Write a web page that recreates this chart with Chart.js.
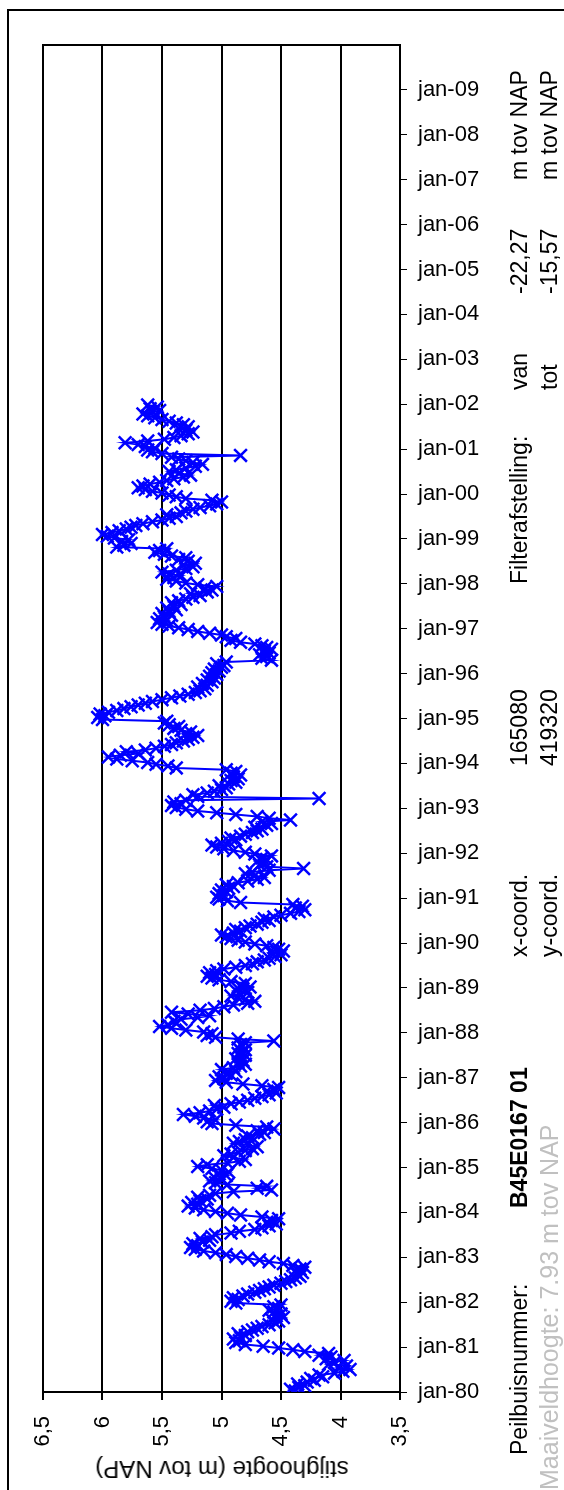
<!DOCTYPE html>
<html lang="nl">
<head>
<meta charset="UTF-8">
<title>Stijghoogte B45E0167 01</title>
<script src="https://cdn.jsdelivr.net/npm/chart.js"></script>
<style>
  body { margin: 0; background: #fff; }
  .page {
    position: relative;
    width: 564px;
    height: 1490px;
    overflow: hidden;
    background: #fff;
    font-family: 'Liberation Sans', Arial, sans-serif;
  }
  .frame {
    position: absolute;
    left: 7px;
    top: 9px;
    width: 620px;
    height: 1540px;
    border: 2px solid #000;
  }
  #chart { position: absolute; left: 0; top: 0; }
  .vtext {
    position: absolute;
    transform-origin: 0 0;
    transform: rotate(-90deg);
    font-size: 23px;
    line-height: 24px;
    white-space: nowrap;
    color: #000;
  }
  .axis-title {
    position: absolute;
    left: 222px;
    top: 1469px;
    transform: translate(-50%, -50%) rotate(180deg);
    font-size: 24px;
    white-space: nowrap;
  }
  .grey { color: #c0c0c0; font-size: 25px; }
  .bold { font-weight: bold; }
</style>
</head>
<body>
<div class="page">
  <div class="frame"></div>
  <canvas id="chart" width="564" height="1490"></canvas>
  <div class="axis-title">stijghoogte (m tov NAP)</div>

  <div class="vtext" style="left:507px; top:1455px">Peilbuisnummer:</div>
  <div class="vtext bold" style="left:507px; top:1208px">B45E0167 01</div>
  <div class="vtext" style="left:507px; top:957px">x-coord.</div>
  <div class="vtext" style="left:507px; top:766px">165080</div>
  <div class="vtext" style="left:507px; top:584px">Filterafstelling:</div>
  <div class="vtext" style="left:507px; top:390px">van</div>
  <div class="vtext" style="left:507px; top:294px">-22,27</div>
  <div class="vtext" style="left:507px; top:180px">m tov NAP</div>

  <div class="vtext grey" style="left:537px; top:1490px">Maaiveldhoogte: 7.93 m tov NAP</div>
  <div class="vtext" style="left:537px; top:957px">y-coord.</div>
  <div class="vtext" style="left:537px; top:766px">419320</div>
  <div class="vtext" style="left:537px; top:390px">tot</div>
  <div class="vtext" style="left:537px; top:294px">-15,57</div>
  <div class="vtext" style="left:537px; top:180px">m tov NAP</div>
</div>

<script>
// measurement dates (decimal years) and stijghoogte (m tov NAP)
const dates = [
  1980.02,1980.06,1980.10,1980.14,1980.18,1980.22,1980.26,1980.30,1980.34,1980.38,1980.42,1980.46,1980.50,1980.54,1980.58,1980.62,1980.66,1980.70,1980.74,1980.78,1980.82,1980.86,1980.90,1980.94,1980.98,
  1981.02,1981.06,1981.10,1981.14,1981.18,1981.22,1981.26,1981.30,1981.34,1981.38,1981.42,1981.46,1981.50,1981.54,1981.58,1981.62,1981.66,1981.70,1981.74,1981.78,1981.82,1981.86,1981.90,1981.94,1981.98,
  1982.02,1982.06,1982.10,1982.14,1982.18,1982.22,1982.26,1982.30,1982.34,1982.38,1982.42,1982.46,1982.50,1982.54,1982.58,1982.62,1982.66,1982.70,1982.74,1982.78,1982.82,1982.86,1982.90,1982.94,1982.98,
  1983.02,1983.06,1983.10,1983.14,1983.18,1983.22,1983.26,1983.30,1983.34,1983.38,1983.42,1983.46,1983.50,1983.54,1983.58,1983.62,1983.66,1983.70,1983.74,1983.78,1983.82,1983.86,1983.90,1983.94,1983.98,
  1984.02,1984.06,1984.10,1984.14,1984.18,1984.22,1984.26,1984.30,1984.34,1984.38,1984.42,1984.46,1984.50,1984.54,1984.58,1984.62,1984.66,1984.70,1984.74,1984.78,1984.82,1984.86,1984.90,1984.94,1984.98,
  1985.02,1985.06,1985.10,1985.14,1985.18,1985.22,1985.26,1985.30,1985.34,1985.38,1985.42,1985.46,1985.50,1985.54,1985.58,1985.62,1985.66,1985.70,1985.74,1985.78,1985.82,1985.86,1985.90,1985.94,1985.98,
  1986.02,1986.06,1986.10,1986.14,1986.18,1986.22,1986.26,1986.30,1986.34,1986.38,1986.42,1986.46,1986.50,1986.54,1986.58,1986.62,1986.66,1986.70,1986.74,1986.78,1986.82,1986.86,1986.90,1986.94,1986.98,
  1987.02,1987.06,1987.10,1987.14,1987.18,1987.22,1987.26,1987.30,1987.34,1987.38,1987.42,1987.46,1987.50,1987.54,1987.58,1987.62,1987.66,1987.70,1987.74,1987.78,1987.82,1987.86,1987.90,1987.94,1987.98,
  1988.02,1988.06,1988.10,1988.14,1988.18,1988.22,1988.26,1988.30,1988.34,1988.38,1988.42,1988.46,1988.50,1988.54,1988.58,1988.62,1988.66,1988.70,1988.74,1988.78,1988.82,1988.86,1988.90,1988.94,1988.98,
  1989.02,1989.06,1989.10,1989.14,1989.18,1989.22,1989.26,1989.30,1989.34,1989.38,1989.42,1989.46,1989.50,1989.54,1989.58,1989.62,1989.66,1989.70,1989.74,1989.78,1989.82,1989.86,1989.90,1989.94,1989.98,
  1990.02,1990.06,1990.10,1990.14,1990.18,1990.22,1990.26,1990.30,1990.34,1990.38,1990.42,1990.46,1990.50,1990.54,1990.58,1990.62,1990.66,1990.70,1990.74,1990.78,1990.82,1990.86,1990.90,1990.94,1990.98,
  1991.02,1991.06,1991.10,1991.14,1991.18,1991.22,1991.26,1991.30,1991.34,1991.38,1991.42,1991.46,1991.50,1991.54,1991.58,1991.62,1991.66,1991.70,1991.74,1991.78,1991.82,1991.86,1991.90,1991.94,1991.98,
  1992.02,1992.06,1992.10,1992.14,1992.18,1992.22,1992.26,1992.30,1992.34,1992.38,1992.42,1992.46,1992.50,1992.54,1992.58,1992.62,1992.66,1992.70,1992.74,1992.78,1992.82,1992.86,1992.90,1992.94,1992.98,
  1993.02,1993.06,1993.10,1993.14,1993.18,1993.22,1993.26,1993.30,1993.34,1993.38,1993.42,1993.46,1993.50,1993.54,1993.58,1993.62,1993.66,1993.70,1993.74,1993.78,1993.82,1993.86,1993.90,1993.94,1993.98,
  1994.02,1994.06,1994.10,1994.14,1994.18,1994.22,1994.26,1994.30,1994.34,1994.38,1994.42,1994.46,1994.50,1994.54,1994.58,1994.62,1994.66,1994.70,1994.74,1994.78,1994.82,1994.86,1994.90,1994.94,1994.98,
  1995.02,1995.06,1995.10,1995.14,1995.18,1995.22,1995.26,1995.30,1995.34,1995.38,1995.42,1995.46,1995.50,1995.54,1995.58,1995.62,1995.66,1995.70,1995.74,1995.78,1995.82,1995.86,1995.90,1995.94,1995.98,
  1996.02,1996.06,1996.10,1996.14,1996.18,1996.22,1996.26,1996.30,1996.34,1996.38,1996.42,1996.46,1996.50,1996.54,1996.58,1996.62,1996.66,1996.70,1996.74,1996.78,1996.82,1996.86,1996.90,1996.94,1996.98,
  1997.02,1997.06,1997.10,1997.14,1997.18,1997.22,1997.26,1997.30,1997.34,1997.38,1997.42,1997.46,1997.50,1997.54,1997.58,1997.62,1997.66,1997.70,1997.74,1997.78,1997.82,1997.86,1997.90,1997.94,1997.98,
  1998.02,1998.06,1998.10,1998.14,1998.18,1998.22,1998.26,1998.30,1998.34,1998.38,1998.42,1998.46,1998.50,1998.54,1998.58,1998.62,1998.66,1998.70,1998.74,1998.78,1998.82,1998.86,1998.90,1998.94,1998.98,
  1999.02,1999.06,1999.10,1999.14,1999.18,1999.22,1999.26,1999.30,1999.34,1999.38,1999.42,1999.46,1999.50,1999.54,1999.58,1999.62,1999.66,1999.70,1999.74,1999.78,1999.82,1999.86,1999.90,1999.94,1999.98,
  2000.02,2000.06,2000.10,2000.14,2000.18,2000.22,2000.26,2000.30,2000.34,2000.38,2000.42,2000.46,2000.50,2000.54,2000.58,2000.62,2000.66,2000.70,2000.74,2000.78,2000.82,2000.86,2000.90,2000.94,2000.98,
  2001.02,2001.06,2001.10,2001.14,2001.18,2001.22,2001.26,2001.30,2001.34,2001.38,2001.42,2001.46,2001.50,2001.54,2001.58,2001.62,2001.66,2001.70,2001.74,2001.78,2001.82,2001.86,2001.90,2001.94,2001.98
];

const levels = [
  4.38,4.42,4.35,4.30,4.36,4.28,4.22,4.25,4.15,4.18,4.05,3.98,3.92,4.02,3.95,4.10,4.05,3.97,4.12,4.08,4.18,4.10,4.30,4.40,4.52,
  4.65,4.80,4.88,4.85,4.90,4.84,4.80,4.86,4.78,4.74,4.70,4.66,4.60,4.55,4.52,4.58,4.48,4.54,4.50,4.56,4.60,4.52,4.56,4.50,4.88,
  4.92,4.86,4.90,4.82,4.78,4.72,4.68,4.64,4.60,4.56,4.50,4.46,4.42,4.38,4.34,4.36,4.32,4.38,4.34,4.30,4.40,4.48,4.60,4.68,4.78,
  4.88,4.96,5.05,5.15,5.22,5.26,5.20,5.24,5.16,5.10,5.18,5.08,5.05,4.92,4.85,4.72,4.66,4.60,4.54,4.62,4.58,4.52,4.66,4.84,4.95,
  5.05,5.15,5.22,5.28,5.20,5.25,5.18,5.12,5.20,5.10,5.05,4.90,4.58,4.70,4.62,4.95,5.05,5.10,5.00,5.06,4.96,5.02,4.94,5.00,5.08,
  5.20,5.12,4.95,4.85,4.80,4.90,4.98,4.92,4.86,4.80,4.74,4.70,4.78,4.90,4.85,4.80,4.74,4.78,4.68,4.64,4.70,4.56,4.62,4.88,5.08,
  5.12,5.05,5.15,5.22,5.32,5.18,5.10,5.04,4.98,5.06,4.92,4.85,4.78,4.72,4.66,4.60,4.54,4.62,4.56,4.52,4.66,4.82,4.96,5.05,4.98,
  5.02,4.92,4.96,4.88,5.00,4.90,4.84,4.80,4.86,4.82,4.88,4.84,4.80,4.86,4.83,4.80,4.86,4.82,4.84,4.80,4.56,4.86,5.05,5.12,5.08,
  5.15,5.30,5.42,5.52,5.45,5.38,5.40,5.34,5.20,5.10,5.28,5.42,5.18,5.06,4.98,4.90,4.78,4.72,4.80,4.86,4.92,4.84,4.78,4.88,4.82,
  4.76,4.84,4.80,4.92,5.02,5.08,5.12,5.05,5.10,5.04,4.98,4.88,4.80,4.74,4.70,4.64,4.60,4.55,4.50,4.58,4.48,4.52,4.56,4.62,4.72,
  4.80,4.86,4.92,4.96,5.00,4.90,4.84,4.88,4.80,4.76,4.70,4.66,4.60,4.64,4.56,4.50,4.42,4.35,4.30,4.38,4.32,4.40,4.84,4.95,5.02,
  5.04,4.98,5.02,4.96,5.00,4.94,4.90,4.96,4.86,4.78,4.70,4.64,4.72,4.80,4.74,4.60,4.31,4.62,4.68,4.64,4.70,4.62,4.66,4.58,4.72,
  4.80,4.90,4.98,5.04,5.08,5.00,4.94,4.88,4.92,4.84,4.80,4.74,4.70,4.66,4.72,4.62,4.58,4.66,4.42,4.60,4.70,4.88,5.04,5.20,5.30,
  5.38,5.42,5.34,5.40,5.30,4.18,5.20,5.24,5.12,5.06,5.00,4.96,5.02,4.94,4.88,4.92,4.86,4.90,4.84,4.92,4.88,4.96,5.38,5.45,5.55,
  5.62,5.75,5.88,5.95,5.85,5.70,5.80,5.64,5.55,5.48,5.42,5.38,5.32,5.28,5.24,5.20,5.30,5.26,5.34,5.40,5.36,5.44,5.48,5.46,6.00,
  6.04,5.98,6.02,5.95,5.88,5.82,5.76,5.70,5.64,5.58,5.50,5.42,5.35,5.28,5.22,5.18,5.14,5.20,5.12,5.16,5.08,5.12,5.06,5.10,5.04,
  5.08,5.02,5.06,5.00,4.98,5.04,4.96,4.58,4.66,4.62,4.68,4.60,4.64,4.58,4.62,4.66,4.72,4.84,4.92,4.88,4.96,5.00,5.10,5.20,5.28,
  5.36,5.44,5.50,5.54,5.46,5.52,5.48,5.42,5.50,5.44,5.38,5.46,5.40,5.34,5.42,5.36,5.30,5.24,5.18,5.26,5.12,5.08,5.14,5.04,5.20,
  5.30,5.38,5.46,5.40,5.34,5.44,5.50,5.38,5.30,5.24,5.32,5.22,5.28,5.36,5.30,5.42,5.48,5.56,5.52,5.46,5.88,5.82,5.76,5.84,5.78,
  5.90,5.96,6.00,5.92,5.86,5.80,5.76,5.72,5.66,5.58,5.50,5.44,5.38,5.46,5.34,5.30,5.24,5.18,5.10,5.04,5.00,5.08,5.30,5.38,5.44,
  5.50,5.58,5.64,5.70,5.66,5.60,5.52,5.46,5.40,5.32,5.26,5.36,5.44,5.38,5.30,5.22,5.16,5.24,5.30,5.36,5.42,4.84,5.50,5.58,5.62,
  5.56,5.64,5.70,5.81,5.62,5.48,5.40,5.34,5.28,5.24,5.30,5.36,5.28,5.32,5.38,5.44,5.50,5.56,5.62,5.66,5.58,5.52,5.60,5.54,5.62
];

// axis ranges
const levelTicks = { min: 3.5, max: 6.5, step: 0.5 };
const yearTicks = { min: 1980, max: 2010, lastLabel: 2009 };

const n = Math.min(dates.length, levels.length);
const points = [];
for (let i = 0; i < n; i++) {
  points.push({ x: levels[i], y: dates[i] });
}

const tickFont = { family: "'Liberation Sans', Arial, sans-serif", size: 22 };

// black frame round the plot area
const plotFrame = {
  id: 'plotFrame',
  beforeDatasetsDraw(chart) {
    const { ctx, chartArea: a } = chart;
    ctx.save();
    ctx.strokeStyle = '#000';
    ctx.lineWidth = 2;
    ctx.strokeRect(a.left, a.top, a.right - a.left, a.bottom - a.top);
    ctx.restore();
  }
};

new Chart(document.getElementById('chart'), {
  type: 'scatter',
  data: {
    datasets: [{
      data: points,
      showLine: true,
      borderColor: '#0000ff',
      borderWidth: 2,
      pointStyle: 'crossRot',
      pointRadius: 9,
      pointBorderWidth: 2.5,
      pointBorderColor: '#0000ff',
      pointBackgroundColor: '#0000ff'
    }]
  },
  options: {
    responsive: false,
    animation: false,
    devicePixelRatio: 1,
    layout: { padding: { left: 43, top: 45, right: 0, bottom: 0 } },
    plugins: {
      legend: { display: false },
      tooltip: { enabled: false }
    },
    scales: {
      x: {
        type: 'linear',
        position: 'bottom',
        reverse: true,
        min: levelTicks.min,
        max: levelTicks.max,
        ticks: {
          stepSize: levelTicks.step,
          minRotation: 90,
          maxRotation: 90,
          padding: 16,
          color: '#000',
          font: tickFont,
          callback: v => String(v).replace('.', ',')
        },
        grid: { color: '#000', lineWidth: 2, tickLength: 8 },
        border: { color: '#000', width: 2 },
        afterFit: s => { s.height = 98; }
      },
      y: {
        type: 'linear',
        position: 'right',
        min: yearTicks.min,
        max: yearTicks.max,
        afterBuildTicks: s => { s.ticks = s.ticks.filter(t => t.value <= yearTicks.lastLabel); },
        ticks: {
          stepSize: 1,
          autoSkip: false,
          padding: 11,
          color: '#000',
          font: tickFont,
          callback: v => 'jan-' + String(v % 100).padStart(2, '0')
        },
        grid: { drawOnChartArea: false, color: '#000', lineWidth: 1, tickLength: 7 },
        border: { color: '#000', width: 2 },
        afterFit: s => { s.width = 164; }
      }
    }
  },
  plugins: [plotFrame]
});
</script>
</body>
</html>
